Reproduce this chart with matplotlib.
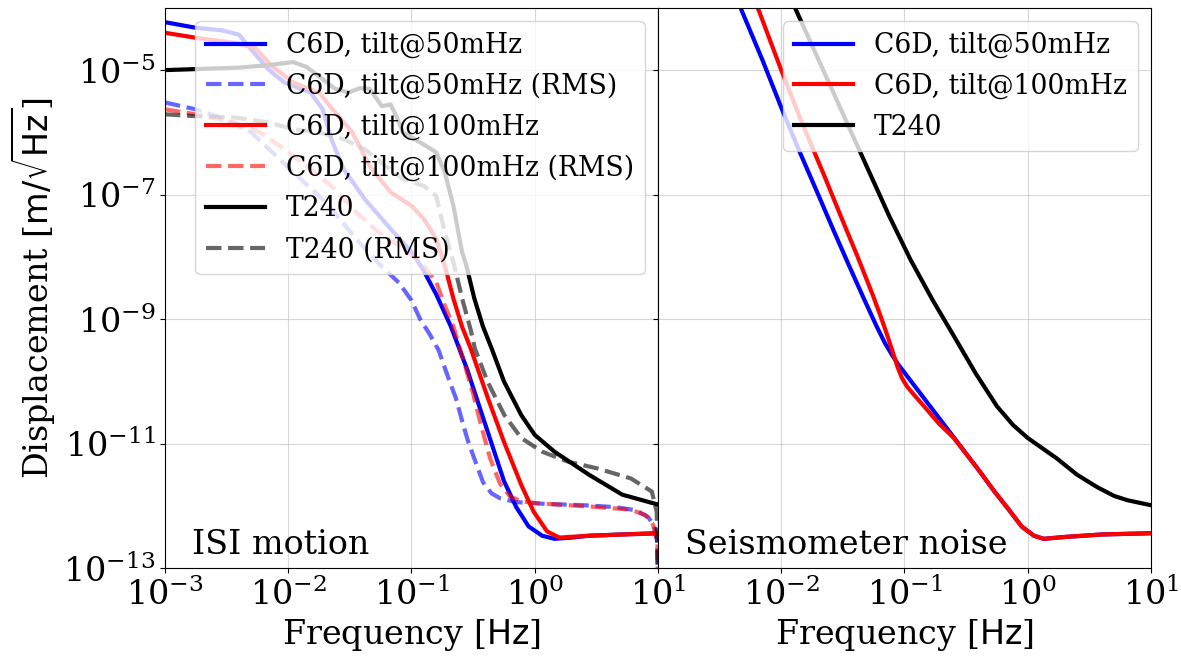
import numpy as np
import matplotlib
matplotlib.use("Agg")
import matplotlib.pyplot as plt

plt.rcParams["font.family"] = "serif"
plt.rcParams["font.serif"] = ["DejaVu Serif"]
plt.rcParams["mathtext.fontset"] = "dejavusans"

# ── Data (log10 frequency [Hz], log10 displacement [m/rtHz]) ──
# Left panel: ISI motion
isi50_lf = [-3.0, -2.75, -2.54, -2.40, -2.30, -2.16, -2.03, -1.82, -1.72, -1.65, -1.55, -1.38,
            -1.17, -1.0, -0.91, -0.80, -0.68, -0.55, -0.45, -0.35, -0.25, -0.15, -0.05, 0.06,
            0.16, 0.30, 0.44, 0.70, 1.0]
isi50_ly = [-4.23, -4.32, -4.36, -4.43, -4.67, -4.99, -5.20, -5.36, -5.63, -6.11, -6.59, -7.07,
            -7.55, -7.92, -8.19, -8.60, -9.12, -9.80, -10.40, -11.0, -11.6, -12.02, -12.33, -12.48,
            -12.53, -12.51, -12.48, -12.46, -12.44]

isi100_lf = [-3.0, -2.75, -2.44, -2.27, -2.13, -1.96, -1.75, -1.62, -1.48, -1.34, -1.17, -1.0,
             -0.90, -0.80, -0.73, -0.66, -0.59, -0.52, -0.38, -0.25, -0.11, -0.01, 0.10, 0.20,
             0.44, 1.0]
isi100_ly = [-4.40, -4.48, -4.56, -4.64, -4.94, -5.20, -5.36, -5.68, -6.0, -6.54, -6.96, -7.18,
             -7.39, -7.71, -8.14, -8.67, -9.12, -9.47, -10.27, -10.97, -11.66, -12.09, -12.41, -12.51,
             -12.48, -12.44]

isi_t240_lf = [-3.0, -2.7, -2.4, -2.16, -1.96, -1.85, -1.75, -1.62, -1.51, -1.42, -1.34, -1.24,
               -1.17, -1.12, -1.07, -0.93, -0.80, -0.73, -0.66, -0.59, -0.555, -0.49, -0.42,
               -0.35, -0.25, -0.11, 0.0, 0.16, 0.44, 0.71, 1.0]
isi_t240_ly = [-5.0, -4.98, -4.96, -4.92, -4.87, -4.95, -5.10, -5.30, -5.36, -5.29, -5.30, -5.58,
               -5.55, -5.75, -6.0, -6.16, -6.32, -6.64, -7.18, -7.92, -8.14, -8.67, -9.12,
               -9.47, -10.0, -10.54, -10.86, -11.13, -11.50, -11.82, -11.98]

rms50_lf = [-3.0, -2.75, -2.51, -2.30, -2.13, -1.96, -1.75, -1.62, -1.45, -1.27, -1.10, -1.0,
            -0.93, -0.85, -0.78, -0.70, -0.64, -0.58, -0.54, -0.47, -0.42, -0.35, -0.28, -0.15,
            0.1, 0.4, 0.65, 0.82, 0.92, 0.97, 0.995, 1.0]
rms50_ly = [-5.52, -5.63, -5.79, -6.0, -6.32, -6.64, -7.02, -7.30, -7.71, -8.10, -8.42, -8.70,
            -9.0, -9.25, -9.50, -9.95, -10.27, -10.70, -10.97, -11.35, -11.62, -11.80, -11.88, -11.94,
            -11.97, -11.99, -12.02, -12.07, -12.18, -12.32, -12.6, -13.5]

rms100_lf = [-3.0, -2.75, -2.44, -2.23, -2.03, -1.65, -1.45, -1.27, -1.10, -0.93, -0.80, -0.73,
             -0.66, -0.58, -0.50, -0.43, -0.36, -0.28, -0.20, -0.10, 0.03, 0.44, 0.78, 0.90,
             0.96, 0.995, 1.0]
rms100_ly = [-5.63, -5.71, -5.84, -6.0, -6.27, -6.86, -7.28, -7.60, -7.82, -8.08, -8.40, -8.78,
             -9.12, -9.65, -10.2, -10.75, -11.25, -11.65, -11.85, -11.93, -11.96, -12.01, -12.06, -12.15,
             -12.3, -12.6, -13.5]

rms_t240_lf = [-3.0, -2.75, -2.44, -2.16, -1.96, -1.75, -1.55, -1.38, -1.21, -1.07, -0.90, -0.80,
               -0.73, -0.66, -0.589, -0.52, -0.486, -0.384, -0.247, -0.11, 0.06, 0.27, 0.51, 0.78,
               0.95, 0.99, 1.0]
rms_t240_ly = [-5.71, -5.74, -5.76, -5.84, -5.95, -6.0, -6.11, -6.27, -6.54, -6.75, -6.86, -7.02,
               -7.60, -8.08, -8.67, -9.17, -9.47, -10.0, -10.54, -10.91, -11.13, -11.29, -11.40, -11.56,
               -11.77, -12.1, -13.5]

# Right panel: seismometer noise
n50_lf = [-2.33, -2.15, -1.99, -1.86, -1.70, -1.57, -1.45, -1.33, -1.23, -1.16, -1.10, -1.05,
          -1.0, -0.9, -0.8, -0.6, -0.4, -0.27, -0.15, -0.05, 0.05, 0.13, 0.3, 0.6, 1.0]
n50_ly = [-4.0, -4.85, -5.65, -6.27, -7.0, -7.6, -8.14, -8.67, -9.1, -9.38, -9.58, -9.73,
          -9.86, -10.12, -10.38, -10.9, -11.42, -11.77, -12.07, -12.33, -12.48, -12.53, -12.5,
          -12.46, -12.44]

n100_lf = [-2.19, -2.0, -1.81, -1.65, -1.51, -1.38, -1.26, -1.20, -1.15, -1.10, -1.06, -1.02,
           -0.98, -0.93, -0.85, -0.72, -0.6, -0.4, -0.27, -0.15, -0.05, 0.05, 0.13, 0.3, 0.6, 1.0]
n100_ly = [-4.0, -5.0, -5.95, -6.7, -7.38, -8.0, -8.6, -8.92, -9.2, -9.5, -9.75, -9.95,
           -10.08, -10.2, -10.38, -10.68, -10.91, -11.42, -11.77, -12.07, -12.33, -12.48, -12.53,
           -12.5, -12.46, -12.44]

nt240_lf = [-1.888, -1.63, -1.37, -1.125, -0.95, -0.77, -0.6, -0.42, -0.25, -0.12, 0.0, 0.237,
            0.4, 0.564, 0.7, 0.809, 1.0]
nt240_ly = [-4.0, -5.13, -6.27, -7.34, -8.05, -8.7, -9.27, -9.88, -10.4, -10.7, -10.91, -11.24,
            -11.5, -11.7, -11.84, -11.91, -11.99]


def p(lf, ly):
    return 10.0 ** np.array(lf), 10.0 ** np.array(ly)


fig, (ax1, ax2) = plt.subplots(1, 2, figsize=(11.81, 6.56), dpi=100, sharey=True)
fig.subplots_adjust(left=0.1397, right=0.9746, bottom=0.134, top=0.988, wspace=0)

LW = 3
ax1.loglog(*p(isi50_lf, isi50_ly), color="blue", lw=LW, label="C6D, tilt@50mHz")
ax1.loglog(*p(rms50_lf, rms50_ly), "--", color="blue", alpha=0.6, lw=LW,
           label="C6D, tilt@50mHz (RMS)")
ax1.loglog(*p(isi100_lf, isi100_ly), color="red", lw=LW, label="C6D, tilt@100mHz")
ax1.loglog(*p(rms100_lf, rms100_ly), "--", color="red", alpha=0.6, lw=LW,
           label="C6D, tilt@100mHz (RMS)")
ax1.loglog(*p(isi_t240_lf, isi_t240_ly), color="black", lw=LW, label="T240")
ax1.loglog(*p(rms_t240_lf, rms_t240_ly), "--", color="black", alpha=0.6, lw=LW,
           label="T240 (RMS)")

ax2.loglog(*p(n50_lf, n50_ly), color="blue", lw=LW, label="C6D, tilt@50mHz")
ax2.loglog(*p(n100_lf, n100_ly), color="red", lw=LW, label="C6D, tilt@100mHz")
ax2.loglog(*p(nt240_lf, nt240_ly), color="black", lw=LW, label="T240")

for ax in (ax1, ax2):
    ax.set_xlim(1e-3, 1e1)
    ax.set_ylim(1e-13, 1e-4)
    ax.grid(True, which="major", alpha=0.5)
    ax.tick_params(labelsize=24)
    ax.set_xlabel("Frequency [$\\mathrm{Hz}$]", fontsize=24)
    ax.legend(loc="upper right", fontsize=19.2, handlelength=2.2, labelspacing=0.52)

ax1.set_yticks([1e-13, 1e-11, 1e-9, 1e-7, 1e-5])
ax1.set_xticks([1e-3, 1e-2, 1e-1, 1e0, 1e1])
ax2.set_xticks([1e-2, 1e-1, 1e0, 1e1])
ax2.tick_params(labelleft=False)
ax1.minorticks_off()
ax2.minorticks_off()
ax1.set_ylabel("Displacement [$\\mathrm{m}/\\sqrt{\\mathrm{Hz}}$]", fontsize=24)

ax1.text(0.055, 0.025, "ISI motion", transform=ax1.transAxes, fontsize=24)
ax2.text(0.055, 0.025, "Seismometer noise", transform=ax2.transAxes, fontsize=24)

fig.savefig("out.png", dpi=100)
